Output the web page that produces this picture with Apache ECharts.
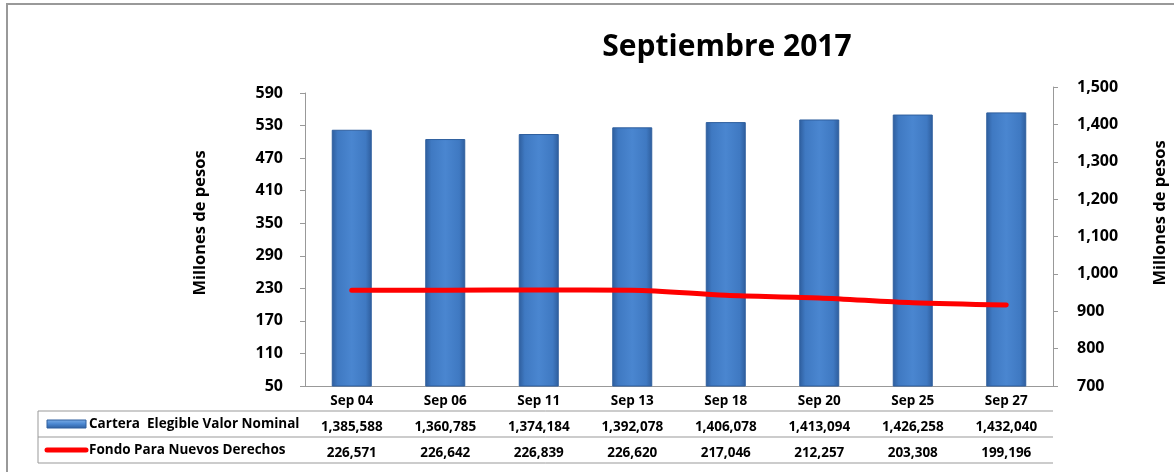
<!DOCTYPE html>
<html lang="es">
<head>
    <meta charset="UTF-8">
    <title>Septiembre 2017</title>
    <script src="https://cdn.jsdelivr.net/npm/echarts@6/dist/echarts.min.js"></script>
    <style>
        html, body { margin: 0; padding: 0; background: #fff; }
        #main { width: 1174px; height: 472px; }
    </style>
</head>
<body>
    <div id="main"></div>
    <script>
    // datos (miles de pesos)
    var fechas = ['Sep 04', 'Sep 06', 'Sep 11', 'Sep 13', 'Sep 18', 'Sep 20', 'Sep 25', 'Sep 27'];
    var cartera = [1385588, 1360785, 1374184, 1392078, 1406078, 1413094, 1426258, 1432040];
    var fondo = [226571, 226642, 226839, 226620, 217046, 212257, 203308, 199196];
    var serieCartera = 'Cartera  Elegible Valor Nominal';
    var serieFondo = 'Fondo Para Nuevos Derechos';
    var tituloEje = 'Millones de pesos';

    var fuente = 'Open Sans';
    var fmt = function (v) { return v.toLocaleString('en-US'); };
    var gris = '#999';

    var myChart = echarts.init(document.getElementById('main'));

    var tick = { fontFamily: fuente, fontSize: 16, fontWeight: 'bold', color: '#000' };
    var fuenteEje = 'bold 16.5px "' + fuente + '"';
    var fuenteTabla = 'bold 13.5px "' + fuente + '"';

    var option = {
        animation: false,
        textStyle: { fontFamily: fuente },
        title: {
            text: 'Septiembre 2017',
            left: 722,
            top: 27,
            textAlign: 'center',
            textStyle: { fontFamily: fuente, fontSize: 30, fontWeight: 'bold', color: '#000' }
        },
        // grid 0: linea (eje izq.), grid 1: barras (eje der.)
        grid: [
            { left: 305, right: 121, top: 93, bottom: 86 },
            { left: 305, right: 121, top: 87, bottom: 86 }
        ],
        xAxis: [{
            type: 'category',
            gridIndex: 0,
            data: fechas,
            axisLine: { lineStyle: { color: gris, width: 1 } },
            axisTick: { length: 77, lineStyle: { color: gris } },
            axisLabel: {
                margin: 3,
                interval: 0,
                formatter: function (v, i) {
                    return '{a|' + v + '}\n{b|' + fmt(cartera[i]) + '}\n{b|' + fmt(fondo[i]) + '}';
                },
                rich: {
                    a: { fontFamily: fuente, fontSize: 13.5, fontWeight: 'bold', color: '#000', lineHeight: 25 },
                    b: { fontFamily: fuente, fontSize: 13.5, fontWeight: 'bold', color: '#000', lineHeight: 26 }
                }
            }
        }, {
            type: 'category',
            gridIndex: 1,
            data: fechas,
            show: false
        }],
        yAxis: [{
            type: 'value',
            gridIndex: 0,
            min: 50, max: 590, interval: 60,
            axisLine: { show: true, lineStyle: { color: gris } },
            axisTick: { show: true, length: 5, lineStyle: { color: gris } },
            splitLine: { show: false },
            axisLabel: Object.assign({ margin: 22 }, tick)
        }, {
            type: 'value',
            gridIndex: 1,
            position: 'right',
            min: 700, max: 1500, interval: 100,
            axisLine: { show: true, lineStyle: { color: gris } },
            axisTick: { show: true, length: 5, lineStyle: { color: gris } },
            splitLine: { show: false },
            axisLabel: Object.assign({ margin: 24, formatter: function (v) { return fmt(v); } }, tick)
        }],
        series: [{
            name: serieCartera,
            type: 'bar',
            xAxisIndex: 1,
            yAxisIndex: 1,
            barWidth: 40,
            data: cartera.map(function (v) { return v / 1000; }),
            itemStyle: {
                color: new echarts.graphic.LinearGradient(0, 0, 1, 0, [
                    { offset: 0, color: '#2e5d9c' },
                    { offset: 0.15, color: '#3f79c2' },
                    { offset: 0.5, color: '#4a86d0' },
                    { offset: 0.85, color: '#3f79c2' },
                    { offset: 1, color: '#2e5d9c' }
                ]),
                borderColor: '#2f5f9e',
                borderWidth: 1
            }
        }, {
            name: serieFondo,
            type: 'line',
            xAxisIndex: 0,
            yAxisIndex: 0,
            data: fondo.map(function (v) { return v / 1000; }),
            smooth: 0.3,
            symbol: 'none',
            lineStyle: { color: '#ff0000', width: 5, cap: 'round' },
            z: 5
        }],
        graphic: [
            // marco exterior
            { type: 'rect', shape: { x: 7, y: 4, width: 1300, height: 600 }, style: { fill: 'none', stroke: gris, lineWidth: 2 }, silent: true },
            // titulos de ejes
            { type: 'text', x: 200, y: 223, rotation: Math.PI / 2, style: { text: tituloEje, font: fuenteEje, fill: '#000', textAlign: 'center', textVerticalAlign: 'middle' } },
            { type: 'text', x: 1160, y: 213, rotation: Math.PI / 2, style: { text: tituloEje, font: fuenteEje, fill: '#000', textAlign: 'center', textVerticalAlign: 'middle' } },
            // tabla de datos
            { type: 'line', shape: { x1: 38, y1: 411, x2: 1053, y2: 411 }, style: { stroke: gris, lineWidth: 1 } },
            { type: 'line', shape: { x1: 38, y1: 437, x2: 1053, y2: 437 }, style: { stroke: gris, lineWidth: 1 } },
            { type: 'line', shape: { x1: 38, y1: 463, x2: 1053, y2: 463 }, style: { stroke: gris, lineWidth: 1 } },
            { type: 'line', shape: { x1: 38, y1: 411, x2: 38, y2: 463 }, style: { stroke: gris, lineWidth: 1 } },
            {
                type: 'rect', shape: { x: 47, y: 420, width: 39, height: 8 },
                style: {
                    fill: new echarts.graphic.LinearGradient(0, 0, 0, 1, [
                        { offset: 0, color: '#7fb0e8' },
                        { offset: 0.5, color: '#4a86d0' },
                        { offset: 1, color: '#2e5d9c' }
                    ]),
                    stroke: '#2f5f9e', lineWidth: 1
                }
            },
            { type: 'line', shape: { x1: 47, y1: 450, x2: 86, y2: 450 }, style: { stroke: '#ff0000', lineWidth: 5, lineCap: 'round' } },
            { type: 'text', x: 89, y: 424, style: { text: serieCartera, font: fuenteTabla, fill: '#000', textVerticalAlign: 'middle' } },
            { type: 'text', x: 89, y: 450, style: { text: serieFondo, font: fuenteTabla, fill: '#000', textVerticalAlign: 'middle' } }
        ]
    };

    myChart.setOption(option);
    </script>
</body>
</html>
